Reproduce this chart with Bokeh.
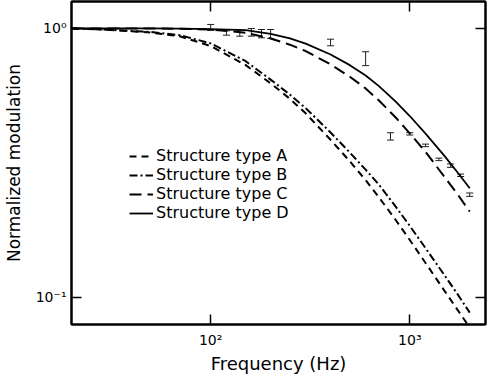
from bokeh.plotting import figure
from bokeh.models import (Range1d, FixedTicker, LogAxis, Legend, LegendItem,
                          ColumnDataSource, Whisker, TeeHead)
from bokeh.embed import file_html
from bokeh.resources import INLINE

# Frequencies (Hz) at which the curves were read
freq = [20, 30, 50, 70, 100, 150, 200, 250, 300, 400, 500, 600, 700, 850, 1000, 1200, 1500, 1750, 2000]

# Normalized modulation for each structure type
type_a = [1.0, 0.99, 0.965, 0.935, 0.86, 0.73, 0.625, 0.547, 0.483, 0.385, 0.32, 0.2725, 0.235,
          0.1935, 0.163, 0.1339, 0.105, 0.0889, 0.077]
type_b = [1.0, 0.99, 0.97, 0.944, 0.88, 0.755, 0.645, 0.567, 0.505, 0.41, 0.345, 0.298, 0.262,
          0.217, 0.184, 0.152, 0.12, 0.1016, 0.0875]
type_c = [1.0, 1.0, 1.0, 0.997, 0.991, 0.964, 0.918, 0.870, 0.824, 0.735, 0.661, 0.598, 0.539,
          0.466, 0.407, 0.347, 0.279, 0.2394, 0.208]
type_d = [1.0, 1.0, 1.0, 0.998, 0.995, 0.985, 0.955, 0.918, 0.878, 0.80, 0.73, 0.668, 0.61,
          0.534, 0.472, 0.406, 0.334, 0.289, 0.254]

# Measured points with error bars
meas_f = [100, 120, 140, 160, 180, 200, 400, 600, 800, 1000, 1200, 1400, 1600, 1800, 2000]
meas_lo = [0.983, 0.944, 0.936, 0.936, 0.923, 0.918, 0.862, 0.727, 0.384, 0.401, 0.363, 0.322, 0.304, 0.281, 0.237]
meas_hi = [1.035, 0.980, 0.986, 1.0, 0.991, 0.991, 0.912, 0.819, 0.409, 0.409, 0.371, 0.329, 0.313, 0.287, 0.244]

x_ticks = [100, 1000]
x_labels = ["10\u00b2", "10\u00b3"]
y_ticks = [0.1, 1]
y_labels = ["10\u207b\u00b9", "10\u2070"]

FONT = "DejaVu Sans"

p = figure(width=487, height=378, x_axis_type="log", y_axis_type="log",
           x_range=Range1d(20, 2400), y_range=Range1d(0.079, 1.26),
           output_backend="svg", toolbar_location=None,
           min_border_left=66, min_border_right=2, min_border_top=1, min_border_bottom=54)
p.background_fill_color = "white"
p.xgrid.grid_line_color = None
p.ygrid.grid_line_color = None
p.outline_line_color = "black"
p.outline_line_width = 2

bottom = p.below[0]
left = p.left[0]
top = LogAxis()
right = LogAxis()
p.add_layout(right, "right")
p.add_layout(top, "above")

for ax in (bottom, top):
    ax.ticker = FixedTicker(ticks=x_ticks)
for ax in (left, right):
    ax.ticker = FixedTicker(ticks=y_ticks)
bottom.major_label_overrides = dict(zip(x_ticks, x_labels))
left.major_label_overrides = dict(zip(y_ticks, y_labels))
top.major_label_overrides = {t: "" for t in x_ticks}
right.major_label_overrides = {t: "" for t in y_ticks}

for ax in (bottom, left, top, right):
    ax.major_tick_in = 10
    ax.major_tick_out = 0
    ax.minor_tick_line_color = None
    ax.major_tick_line_width = 1.5
    ax.major_tick_line_color = "black"
    ax.axis_line_width = 2
    ax.axis_line_color = "black"
    ax.major_label_text_font = FONT
    ax.major_label_text_font_size = "14px"
    ax.major_label_text_color = "black"
    ax.axis_label_text_font = FONT
    ax.axis_label_text_font_style = "normal"
    ax.axis_label_text_font_size = "17px"
    ax.axis_label_text_color = "black"

top.major_label_standoff = 0
right.major_label_standoff = 0
bottom.major_label_standoff = 7
bottom.axis_label = "Frequency (Hz)"
bottom.axis_label_text_font_size = "18px"
bottom.axis_label_standoff = 2
left.major_label_standoff = 5
left.axis_label = "Normalized modulation"
left.axis_label_standoff = 9

ra = p.line(freq, type_a, line_color="black", line_width=2, line_dash="7 5")
rb = p.line(freq, type_b, line_color="black", line_width=2, line_dash="8 3 2 3")
rc = p.line(freq, type_c, line_color="black", line_width=2, line_dash="12 6")
rd = p.line(freq, type_d, line_color="black", line_width=1.8)

src = ColumnDataSource(dict(f=meas_f, lo=meas_lo, hi=meas_hi))
wh = Whisker(base="f", lower="lo", upper="hi", source=src, dimension="height",
             line_color="#222222", line_width=1,
             upper_head=TeeHead(size=7, line_color="#222222", line_width=1),
             lower_head=TeeHead(size=7, line_color="#222222", line_width=1))
p.add_layout(wh)

legend = Legend(items=[LegendItem(label="Structure type A", renderers=[ra]),
                       LegendItem(label="Structure type B", renderers=[rb]),
                       LegendItem(label="Structure type C", renderers=[rc]),
                       LegendItem(label="Structure type D", renderers=[rd])],
                location=(58, 102), orientation="vertical",
                border_line_color=None, background_fill_alpha=0,
                label_text_font=FONT, label_text_font_size="16px",
                label_text_color="black",
                glyph_width=24, glyph_height=18, label_height=18,
                label_standoff=3, spacing=0, padding=0, margin=0)
p.add_layout(legend, "center")

open("out.html", "w").write(file_html(p, INLINE))
